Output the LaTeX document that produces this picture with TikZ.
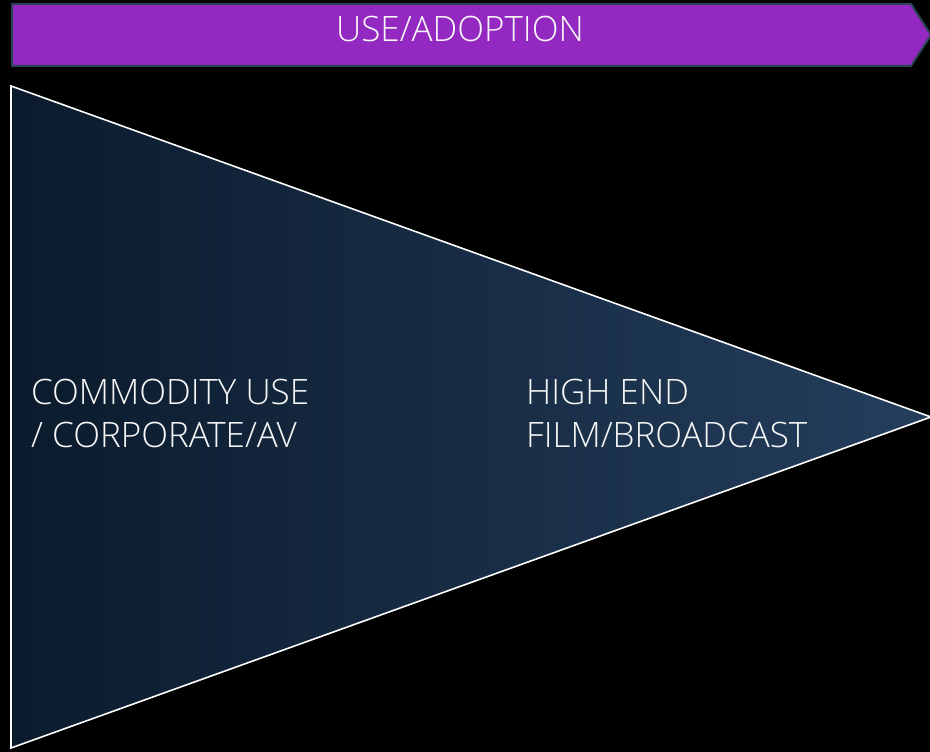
\documentclass[tikz,border=0pt]{standalone}
\usepackage{fontspec}
\setmainfont{Open Sans Light}
\definecolor{bannerfill}{HTML}{9329C1}
\definecolor{bannerline}{HTML}{2B4455}
\definecolor{triL}{HTML}{0B1B2D}
\definecolor{triR}{HTML}{243E5C}
\tikzset{
  banner/.style={fill=bannerfill, draw=bannerline, line width=2pt, line join=miter},
  tri/.style={draw=white, line width=1.6pt, line join=miter},
  lbl/.style={text=white!94!gray, font=\fontsize{35}{43}\selectfont, inner sep=0pt, align=left, anchor=base west},
}
\begin{document}
\begin{tikzpicture}[x=1pt,y=-1pt]
\fill[black] (0,0) rectangle (930,752);
\useasboundingbox (0,0) rectangle (930,752);
% banner
\coordinate (b1) at (12,4);
\coordinate (b2) at (911,4);
\coordinate (b3) at (931,35);
\coordinate (b4) at (911,66);
\coordinate (b5) at (12,66);
\path[banner] (b1) -- (b2) -- (b3) -- (b4) -- (b5) -- cycle;
\node[lbl, anchor=base] (title) at (460,42) {USE/ADOPTION};
% triangle
\coordinate (t1) at (11,86);
\coordinate (t2) at (931,417);
\coordinate (t3) at (11,748);
\shade[left color=triL, right color=triR] (t1) -- (t2) -- (t3) -- cycle;
\path[tri] (t1) -- (t2) -- (t3) -- cycle;
\node[lbl] (commodity) at (31,447) {COMMODITY USE\\/ CORPORATE/AV};
\node[lbl] (highend) at (526,447) {HIGH END\\FILM/BROADCAST};
\end{tikzpicture}
\end{document}
